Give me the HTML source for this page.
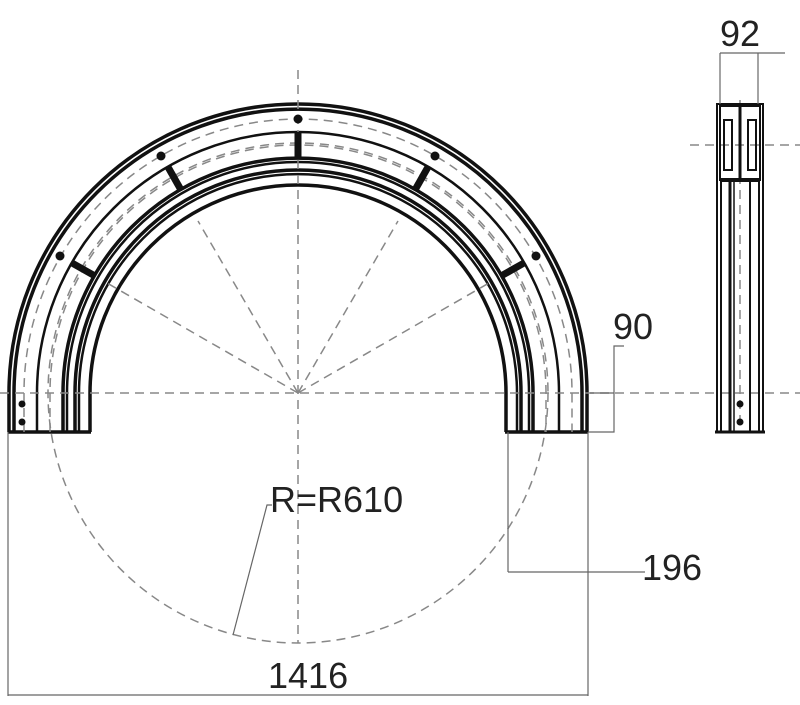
<!DOCTYPE html>
<html><head><style>body{margin:0;background:#fff}svg{display:block}</style></head><body>
<svg width="800" height="705" viewBox="0 0 800 705" xmlns="http://www.w3.org/2000/svg" font-family="Liberation Sans, sans-serif">
<g fill="none" stroke="#111">
<path d="M9 432 V393 A289 289 0 0 1 587 393 V432" stroke-width="3.5"/>
<path d="M14 432 V393 A284 284 0 0 1 582 393 V432" stroke-width="3.5"/>
<path d="M37 432 V393 A261 261 0 0 1 559 393 V432" stroke-width="2.5"/>
<path d="M63 432 V393 A235 235 0 0 1 533 393 V432" stroke-width="3.5"/>
<path d="M67 432 V393 A231 231 0 0 1 529 393 V432" stroke-width="2.5"/>
<path d="M75 432 V393 A223 223 0 0 1 521 393 V432" stroke-width="3.5"/>
<path d="M79 432 V393 A219 219 0 0 1 517 393 V432" stroke-width="2.5"/>
<path d="M90 432 V393 A208 208 0 0 1 506 393 V432" stroke-width="3.5"/>
<line x1="8" y1="432" x2="91" y2="432" stroke-width="3.5"/>
<line x1="505" y1="432" x2="588" y2="432" stroke-width="3.5"/>
</g>
<g fill="none" stroke="#888" stroke-width="1.5" stroke-dasharray="9 6">
<path d="M24 432 V393 A274 274 0 0 1 572 393 V432"/>
<path d="M50 432 V393 A248 248 0 0 1 546 393 V432"/>
<circle cx="298" cy="393" r="250"/>
<line x1="0" y1="393" x2="800" y2="393"/>
<line x1="298" y1="70" x2="298" y2="643"/>
<line x1="298" y1="393" x2="107" y2="283"/>
<line x1="298" y1="393" x2="198" y2="221"/>
<line x1="298" y1="393" x2="398" y2="221"/>
<line x1="298" y1="393" x2="489" y2="283"/>
<line x1="740" y1="100" x2="740" y2="420"/>
<line x1="690" y1="145" x2="800" y2="145"/>
</g>
<g stroke="#111" stroke-width="7">
<line x1="298" y1="132" x2="298" y2="158"/>
<line x1="168" y1="167" x2="181" y2="190"/>
<line x1="428" y1="167" x2="415" y2="190"/>
<line x1="72" y1="263" x2="95" y2="276"/>
<line x1="524" y1="263" x2="501" y2="276"/>
</g>
<g fill="#111">
<circle cx="298" cy="119" r="4.5"/><circle cx="161" cy="156" r="4.5"/><circle cx="435" cy="156" r="4.5"/>
<circle cx="60" cy="256" r="4.5"/><circle cx="536" cy="256" r="4.5"/>
<circle cx="22" cy="404" r="3.5"/><circle cx="22" cy="422" r="3.5"/>
<circle cx="740" cy="404" r="3.5"/><circle cx="740" cy="422" r="3.5"/>
</g>
<g fill="none" stroke="#111">
<rect x="717" y="104" width="46" height="328" stroke-width="2"/>
<line x1="721" y1="180" x2="721" y2="432" stroke-width="2"/>
<line x1="730" y1="180" x2="730" y2="432" stroke-width="3"/>
<line x1="734" y1="180" x2="734" y2="432" stroke-width="1.5"/>
<line x1="750" y1="180" x2="750" y2="432" stroke-width="2"/>
<line x1="759" y1="180" x2="759" y2="432" stroke-width="2"/>
<rect x="720" y="106" width="40" height="74" stroke-width="2"/>
<rect x="724" y="120" width="8" height="50" stroke-width="2"/>
<rect x="748" y="120" width="8" height="50" stroke-width="2"/>
<line x1="740" y1="106" x2="740" y2="180" stroke-width="3"/>
<line x1="720" y1="180" x2="760" y2="180" stroke-width="4"/>
<line x1="715" y1="432" x2="765" y2="432" stroke-width="3"/>
</g>
<g fill="none" stroke="#666" stroke-width="1.2">
<line x1="720" y1="53" x2="720" y2="104"/><line x1="758" y1="53" x2="758" y2="104"/>
<line x1="720" y1="53" x2="785" y2="53"/>
<polyline points="588,432 614,432 614,346 624,346"/>
<line x1="590" y1="393" x2="614" y2="393"/>
<line x1="508" y1="432" x2="508" y2="572"/>
<line x1="588" y1="432" x2="588" y2="696"/>
<line x1="508" y1="572" x2="645" y2="572"/>
<line x1="8" y1="432" x2="8" y2="696"/>
<line x1="8" y1="695" x2="588" y2="695"/>
<polyline points="272,505 267,505 233,635"/>
</g>
<g fill="#222" font-size="36">
<text x="720" y="46">92</text>
<text x="613" y="339">90</text>
<text x="642" y="580">196</text>
<text x="270" y="512">R=R610</text>
<text x="268" y="688">1416</text>
</g>
</svg>
</body></html>
